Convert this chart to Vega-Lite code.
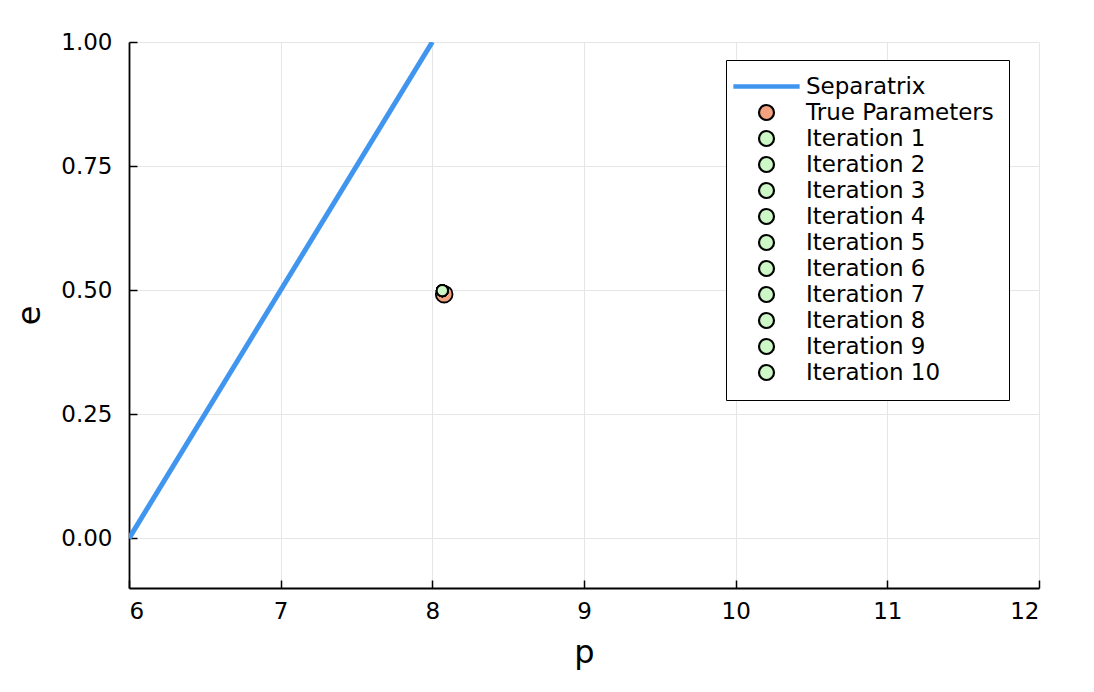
{
  "$schema": "https://vega.github.io/schema/vega-lite/v6.json",
  "autosize": {"type": "none"},
  "width": 910,
  "height": 546,
  "padding": {"left": 129, "top": 42, "right": 55, "bottom": 104},
  "background": "white",
  "config": {
    "view": {"stroke": null},
    "font": "DejaVu Sans",
    "axis": {
      "labelFont": "DejaVu Sans",
      "labelFontSize": 23,
      "labelColor": "black",
      "titleFont": "DejaVu Sans",
      "titleFontSize": 32,
      "titleFontWeight": "normal",
      "titleColor": "black",
      "domainColor": "black",
      "domainWidth": 1.8,
      "tickColor": "black",
      "tickWidth": 1.5,
      "gridColor": "#e6e6e6",
      "gridWidth": 1
    },
    "legend": {
      "labelFont": "DejaVu Sans",
      "labelFontSize": 23,
      "labelColor": "black",
      "labelLimit": 500,
      "symbolSize": 225,
      "symbolStrokeWidth": 2.2,
      "symbolOpacity": 1
    }
  },
  "datasets": {
    "sep": [
      {"series": "Separatrix", "p": 6, "e": 0},
      {"series": "Separatrix", "p": 8, "e": 1}
    ],
    "truth": [
      {"series": "True Parameters", "p": 8.078, "e": 0.492}
    ],
    "iters": [
      {"series": "Iteration 1", "p": 8.066, "e": 0.499},
      {"series": "Iteration 2", "p": 8.066, "e": 0.499},
      {"series": "Iteration 3", "p": 8.066, "e": 0.499},
      {"series": "Iteration 4", "p": 8.066, "e": 0.499},
      {"series": "Iteration 5", "p": 8.066, "e": 0.499},
      {"series": "Iteration 6", "p": 8.066, "e": 0.499},
      {"series": "Iteration 7", "p": 8.066, "e": 0.499},
      {"series": "Iteration 8", "p": 8.066, "e": 0.499},
      {"series": "Iteration 9", "p": 8.066, "e": 0.499},
      {"series": "Iteration 10", "p": 8.066, "e": 0.499}
    ]
  },
  "layer": [
    {
      "data": {"name": "sep"},
      "mark": {"type": "line", "strokeWidth": 5, "clip": true},
      "encoding": {
        "x": {
          "field": "p", "type": "quantitative", "title": "p",
          "scale": {"domain": [6, 12], "nice": false, "zero": false},
          "axis": {
            "values": [6, 7, 8, 9, 10, 11, 12], "format": "d", "tickSize": -8, "labelPadding": 20, "titlePadding": 14
          }
        },
        "y": {
          "field": "e", "type": "quantitative", "title": "e",
          "scale": {"domain": [-0.1, 1.0], "nice": false, "zero": false},
          "axis": {
            "values": [0, 0.25, 0.5, 0.75, 1.0], "format": ".2f", "tickSize": -8, "labelPadding": 25, "titlePadding": 14, "titleAngle": -90
          }
        },
        "stroke": {
          "field": "series", "type": "nominal",
          "scale": {
            "domain": ["Separatrix", "True Parameters", "Iteration 1", "Iteration 2", "Iteration 3", "Iteration 4", "Iteration 5", "Iteration 6", "Iteration 7", "Iteration 8", "Iteration 9", "Iteration 10"],
            "range": ["#4096EE", "black", "black", "black", "black", "black", "black", "black", "black", "black", "black", "black"]
          },
          "legend": {
            "title": null, "orient": "none", "legendX": 597, "legendY": 18,
            "strokeColor": "black", "fillColor": "white", "padding": 15,
            "rowPadding": 1, "labelOffset": 28, "symbolOffset": 14
          }
        }
      }
    },
    {
      "data": {"name": "truth"},
      "mark": {"type": "point", "size": 280, "strokeWidth": 1.8, "opacity": 1, "filled": true},
      "encoding": {
        "x": {"field": "p", "type": "quantitative"},
        "y": {"field": "e", "type": "quantitative"},
        "fill": {
          "field": "series", "type": "nominal",
          "scale": {
            "domain": ["Separatrix", "True Parameters", "Iteration 1", "Iteration 2", "Iteration 3", "Iteration 4", "Iteration 5", "Iteration 6", "Iteration 7", "Iteration 8", "Iteration 9", "Iteration 10"],
            "range": ["#4096EE", "#F2A27E", "#CDF7C6", "#CDF7C6", "#CDF7C6", "#CDF7C6", "#CDF7C6", "#CDF7C6", "#CDF7C6", "#CDF7C6", "#CDF7C6", "#CDF7C6"]
          }
        },
        "stroke": {"field": "series", "type": "nominal"},
        "shape": {
          "field": "series", "type": "nominal",
          "scale": {
            "domain": ["Separatrix", "True Parameters", "Iteration 1", "Iteration 2", "Iteration 3", "Iteration 4", "Iteration 5", "Iteration 6", "Iteration 7", "Iteration 8", "Iteration 9", "Iteration 10"],
            "range": ["M-4.27,-0.15H4.27V0.15H-4.27Z", "circle", "circle", "circle", "circle", "circle", "circle", "circle", "circle", "circle", "circle", "circle"]
          }
        }
      }
    },
    {
      "data": {"name": "iters"},
      "mark": {"type": "point", "size": 125, "strokeWidth": 1.8, "opacity": 1, "filled": true},
      "encoding": {
        "x": {"field": "p", "type": "quantitative"},
        "y": {"field": "e", "type": "quantitative"},
        "fill": {"field": "series", "type": "nominal"},
        "stroke": {"field": "series", "type": "nominal"},
        "shape": {"field": "series", "type": "nominal"}
      }
    }
  ]
}
